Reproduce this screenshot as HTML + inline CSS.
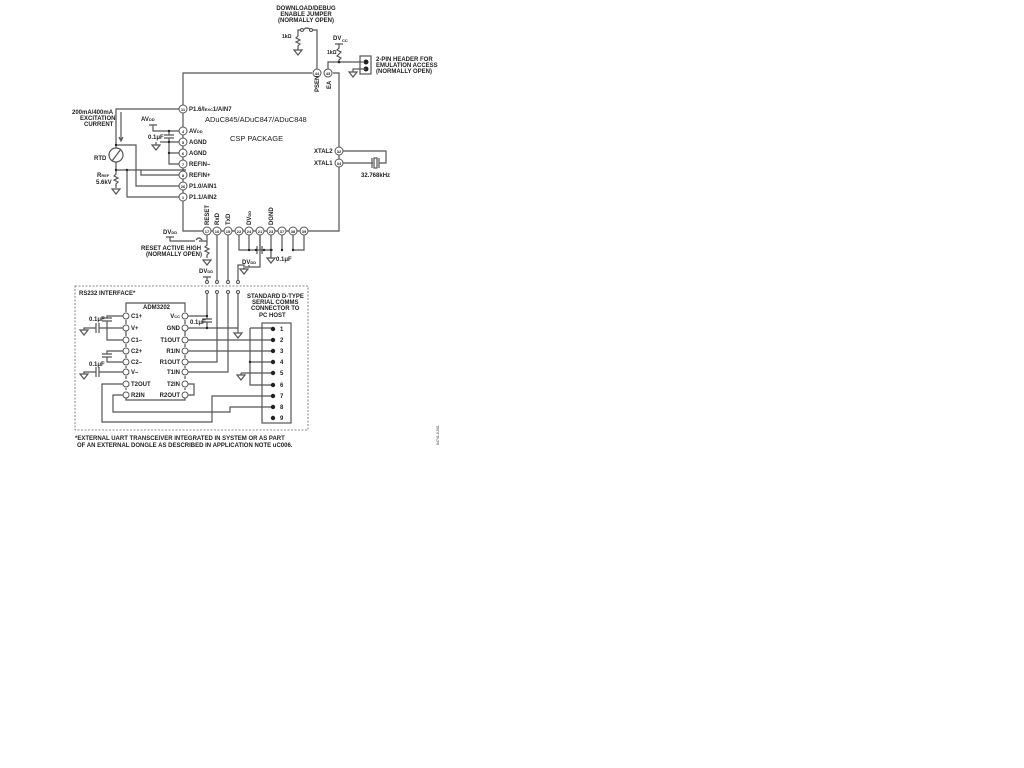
<!DOCTYPE html>
<html><head><meta charset="utf-8"><style>
html,body{margin:0;padding:0;background:#fff;}
svg{display:block;}
text{font-family:"Liberation Sans",sans-serif;font-weight:bold;font-size:6px;fill:#222;}
.w{stroke:#555;stroke-width:1.2;fill:none;}
.p{stroke:#555;stroke-width:1;fill:#fff;}
.d{fill:#222;}
.s{font-size:4px;}
</style></head><body>
<svg width="1024" height="768" viewBox="0 0 1024 768" xmlns="http://www.w3.org/2000/svg">
<!-- top labels -->
<text x="306" y="10" text-anchor="middle">DOWNLOAD/DEBUG</text>
<text x="306" y="16" text-anchor="middle">ENABLE JUMPER</text>
<text x="306" y="22" text-anchor="middle">(NORMALLY OPEN)</text>
<text x="282" y="38" style="font-size:5px">1kΩ</text>
<path class="w" d="M298 36 v-6 h3 M311 30 h6 v39 M298 36 l-2 2 l4 2 l-4 2 l4 2 l-2 2 v4"/>
<path class="w" d="M303 30 q4 -4 8 0"/>
<circle class="p" cx="302" cy="30" r="1.5"/><circle class="p" cx="311" cy="30" r="1.5"/>
<path class="w" d="M294 50 h8 l-4 5 z"/>
<text x="333" y="40">DV</text><text x="342" y="42" class="s">CC</text>
<path class="w" d="M335 44 h8 M339 44 v4 l-2 2 l4 2 l-2 2 l-2 2 l4 2 l-2 2 v2 M339 62 h24 M328 69 v-7 h11"/>
<text x="327" y="54" style="font-size:5px">1kΩ</text>
<circle class="d" cx="339" cy="62" r="1.3"/>
<rect x="360" y="56" width="11" height="18" class="w" stroke-width="1"/>
<circle class="d" cx="366" cy="62" r="2.5"/><circle class="d" cx="366" cy="69" r="2.5"/>
<path class="w" d="M366 69 h-13 v3 M349 72 h8 l-4 5 z"/>
<text x="376" y="61">2-PIN HEADER FOR</text>
<text x="376" y="67">EMULATION ACCESS</text>
<text x="376" y="73">(NORMALLY OPEN)</text>
<!-- main box -->
<path class="w" d="M312 73 H183 V231 H339 V73 H333"/>
<circle class="p" cx="317" cy="73" r="4"/><circle class="p" cx="328" cy="73" r="4"/>
<text x="317" y="75" text-anchor="middle" class="s">44</text><text x="328" y="75" text-anchor="middle" class="s">43</text>
<text transform="translate(319,92) rotate(-90)">PSEN</text>
<text transform="translate(331,89) rotate(-90)">EA</text>
<text x="205" y="122" style="font-weight:normal;font-size:7.5px">ADuC845/ADuC847/ADuC848</text>
<text x="230" y="141" style="font-weight:normal;font-size:7.5px">CSP PACKAGE</text>
<!-- left pins -->
<g>
<circle class="p" cx="183" cy="109" r="4"/><text x="183" y="111" text-anchor="middle" class="s">11</text><text x="189" y="111">P1.6/I<tspan class="s">EXC</tspan>1/AIN7</text>
<circle class="p" cx="183" cy="131" r="4"/><text x="183" y="133" text-anchor="middle" class="s">4</text><text x="189" y="133">AV<tspan class="s">DD</tspan></text>
<circle class="p" cx="183" cy="142" r="4"/><text x="183" y="144" text-anchor="middle" class="s">5</text><text x="189" y="144">AGND</text>
<circle class="p" cx="183" cy="153" r="4"/><text x="183" y="155" text-anchor="middle" class="s">6</text><text x="189" y="155">AGND</text>
<circle class="p" cx="183" cy="164" r="4"/><text x="183" y="166" text-anchor="middle" class="s">7</text><text x="189" y="166">REFIN–</text>
<circle class="p" cx="183" cy="175" r="4"/><text x="183" y="177" text-anchor="middle" class="s">8</text><text x="189" y="177">REFIN+</text>
<circle class="p" cx="183" cy="186" r="4"/><text x="183" y="188" text-anchor="middle" class="s">26</text><text x="189" y="188">P1.0/AIN1</text>
<circle class="p" cx="183" cy="197" r="4"/><text x="183" y="199" text-anchor="middle" class="s">1</text><text x="189" y="199">P1.1/AIN2</text>
</g>
<text x="72" y="114">200mA/400mA</text>
<text x="80" y="120">EXCITATION</text>
<text x="84" y="126">CURRENT</text>
<path class="w" d="M179 109 H116 V145 M121 112 v28 M119 137 l2 4 l2 -4"/>
<text x="141" y="121">AV<tspan class="s">DD</tspan></text>
<path class="w" d="M149 125 h8 M153 125 v6 h26 M169 131 v4 M164 135 h10 M164 138 h10 M169 138 v26 h10 M169 142 h10 M169 153 h10 M160 142 h9 M156 142 v3 M152 145 h8 l-4 5 z"/>
<text x="148" y="139">0.1μF</text>
<circle class="d" cx="169" cy="131" r="1.2"/><circle class="d" cx="169" cy="142" r="1.2"/><circle class="d" cx="169" cy="153" r="1.2"/>
<text x="94" y="160">RTD</text>
<circle class="w" cx="116" cy="155" r="7"/>
<path class="w" d="M112 161 l9 -12 M116 145 v3 M116 162 v8 M116 145 h20 v41 h43 M116 170 h70 M141 170 v5 h38 M127 170 v27 h52 M116 170 v4 l-2 2 l4 2 l-4 2 l4 2 l-2 2 v4 M112 189 h8 l-4 5 z"/>
<circle class="d" cx="116" cy="145" r="1.2"/><circle class="d" cx="116" cy="170" r="1.2"/><circle class="d" cx="127" cy="170" r="1.2"/>
<text x="97" y="177">R<tspan class="s">REF</tspan></text>
<text x="96" y="184">5.6kV</text>
<!-- right pins / crystal -->
<circle class="p" cx="339" cy="151" r="4"/><text x="339" y="153" text-anchor="middle" class="s">32</text><text x="314" y="153">XTAL2</text>
<circle class="p" cx="339" cy="163" r="4"/><text x="339" y="165" text-anchor="middle" class="s">34</text><text x="314" y="165">XTAL1</text>
<path class="w" d="M343 151 h43 v12 h-7 M343 163 h30 M372 158 v10 M379 158 v10"/>
<rect x="374" y="158" width="3" height="10" class="w" stroke-width="0.8"/>
<text x="361" y="177">32.768kHz</text>
<!-- bottom pins -->
<g>
<circle class="p" cx="207" cy="231" r="4"/><circle class="p" cx="217" cy="231" r="4"/><circle class="p" cx="228" cy="231" r="4"/><circle class="p" cx="239" cy="231" r="4"/><circle class="p" cx="249" cy="231" r="4"/><circle class="p" cx="260" cy="231" r="4"/><circle class="p" cx="271" cy="231" r="4"/><circle class="p" cx="282" cy="231" r="4"/><circle class="p" cx="293" cy="231" r="4"/><circle class="p" cx="304" cy="231" r="4"/>
<text y="233" text-anchor="middle" class="s"><tspan x="207">17</tspan><tspan x="217">16</tspan><tspan x="228">15</tspan><tspan x="239">22</tspan><tspan x="249">24</tspan><tspan x="260">21</tspan><tspan x="271">23</tspan><tspan x="282">37</tspan><tspan x="293">38</tspan><tspan x="304">39</tspan></text>
<text transform="translate(209,225) rotate(-90)">RESET</text>
<text transform="translate(219,225) rotate(-90)">RxD</text>
<text transform="translate(230,225) rotate(-90)">TxD</text>
<text transform="translate(251,225) rotate(-90)">DV<tspan class="s">DD</tspan></text>
<text transform="translate(273,225) rotate(-90)">DGND</text>
</g>
<text x="163" y="234">DV<tspan class="s">DD</tspan></text>
<path class="w" d="M166 237 h8 M170 237 v4 h25 M199 241 h8 v4 l-2 2 l4 2 l-4 2 l4 2 l-2 2 v3 M203 260 h8 l-4 5 z M207 235 v6"/>
<path class="w" d="M196 240 q3 -4 6 0"/>
<text x="141" y="250">RESET ACTIVE HIGH</text>
<text x="146" y="256">(NORMALLY OPEN)</text>
<path class="w" d="M239 235 v15 h34 M249 235 v15 M260 235 v15 M271 235 v15 M282 235 v15 M293 235 v15 M304 235 v15 h-11 M271 250 v8 M267 258 h8 l-4 5 z"/>
<path class="w" d="M257 246 v8 M262 246 v8"/>
<circle class="d" cx="249" cy="250" r="1.2"/><circle class="d" cx="256" cy="250" r="1.2"/><circle class="d" cx="264" cy="250" r="1.2"/><circle class="d" cx="271" cy="250" r="1.2"/><circle class="d" cx="282" cy="250" r="1.2"/><circle class="d" cx="293" cy="250" r="1.2"/>
<text x="276" y="261">0.1μF</text>
<path class="w" d="M217 235 v46 M228 235 v46 M260 235 v32 h-8 M245 267 h8 M249 267 v-2 M238 281 v-16 h6 v4 M240 269 h8 l-4 5 z"/>
<text x="242" y="264">DV<tspan class="s">DD</tspan></text>
<text x="199" y="273">DV<tspan class="s">DD</tspan></text>
<path class="w" d="M203 277 h8 M207 277 v4"/>
<circle class="p" cx="207" cy="282" r="1.5"/><circle class="p" cx="217" cy="282" r="1.5"/><circle class="p" cx="228" cy="282" r="1.5"/><circle class="p" cx="238" cy="282" r="1.5"/>
<circle class="p" cx="207" cy="292" r="1.5"/><circle class="p" cx="217" cy="292" r="1.5"/><circle class="p" cx="228" cy="292" r="1.5"/><circle class="p" cx="238" cy="292" r="1.5"/>
<!-- RS232 box -->
<rect x="75" y="286" width="233" height="144" fill="none" stroke="#666" stroke-width="0.8" stroke-dasharray="2,1.5"/>
<text x="79" y="295">RS232 INTERFACE*</text>
<text x="143" y="309">ADM3202</text>
<path class="w" d="M126 312 V303 H185 V312 M126 320 v4 M126 331 v5 M126 344 v3 M126 355 v3 M126 366 v2 M126 376 v3 M185 320 v4 M185 331 v5 M185 344 v3 M185 355 v3 M185 366 v2 M185 376 v3 M185 388 v2 M126 388 v2 M126 398 v2 H185 v-2"/>
<text x="247" y="298">STANDARD D-TYPE</text>
<text x="252" y="304">SERIAL COMMS</text>
<text x="251" y="310">CONNECTOR TO</text>
<text x="259" y="317">PC HOST</text>
<rect x="262" y="323" width="29" height="100" class="w" stroke-width="1"/>
<!-- lower wiring -->
<path class="w" d="M123 384 H102 V422 H212 V396 H273 M123 395 H113 V412 H230 V407 H273 M188 384 h6 v11 h-6"/>
<g class="p">
<circle cx="126" cy="316" r="3"/><circle cx="126" cy="328" r="3"/><circle cx="126" cy="340" r="3"/><circle cx="126" cy="351" r="3"/><circle cx="126" cy="362" r="3"/><circle cx="126" cy="372" r="3"/><circle cx="126" cy="384" r="3"/><circle cx="126" cy="395" r="3"/>
<circle cx="185" cy="316" r="3"/><circle cx="185" cy="328" r="3"/><circle cx="185" cy="340" r="3"/><circle cx="185" cy="351" r="3"/><circle cx="185" cy="362" r="3"/><circle cx="185" cy="372" r="3"/><circle cx="185" cy="384" r="3"/><circle cx="185" cy="395" r="3"/>
</g>
<text x="131" y="318">C1+</text><text x="131" y="330">V+</text><text x="131" y="342">C1–</text><text x="131" y="353">C2+</text><text x="131" y="364">C2–</text><text x="131" y="374">V–</text><text x="131" y="386">T2OUT</text><text x="131" y="397">R2IN</text>
<text x="180" y="318" text-anchor="end">V<tspan class="s">CC</tspan></text><text x="180" y="330" text-anchor="end">GND</text><text x="180" y="342" text-anchor="end">T1OUT</text><text x="180" y="353" text-anchor="end">R1IN</text><text x="180" y="364" text-anchor="end">R1OUT</text><text x="180" y="374" text-anchor="end">T1IN</text><text x="180" y="386" text-anchor="end">T2IN</text><text x="180" y="397" text-anchor="end">R2OUT</text>
<!-- caps left -->
<text x="89" y="321">0.1μF</text>
<path class="w" d="M123 316 h-16 v2 M102 318 h10 M102 321 h10 M107 321 v19 h16 M123 328 h-24 M99 323 v10 M96 323 v10 M96 328 h-12 v2 M80 330 h8 l-4 5 z"/>
<path class="w" d="M123 351 h-16 v3 M102 354 h10 M102 357 h10 M107 357 v5 h16"/>
<text x="89" y="366">0.1μF</text>
<path class="w" d="M123 372 h-24 M99 367 v10 M96 367 v10 M96 372 h-12 v2 M80 374 h8 l-4 5 z"/>
<!-- right side wiring -->
<path class="w" d="M188 316 H207 V294 M188 328 H238 V294 M238 328 V333 M234 333 h8 l-4 5 z M207 316 v3 M202 319 h10 M202 322 h10 M207 322 v6"/>
<circle class="d" cx="207" cy="316" r="1.2"/><circle class="d" cx="207" cy="328" r="1.2"/>
<text x="190" y="324">0.1μF</text>
<path class="w" d="M217 294 V362 H188 M188 340 H273 M188 351 H273 M188 372 H228 V294"/>
<path class="w" d="M250 328 H273 M250 328 V385 H273 M250 362 H273 M241 373 H273 M241 373 v2 M237 375 h8 l-4 5 z"/>
<circle class="d" cx="250" cy="362" r="1.2"/>
<g class="d">
<circle cx="273" cy="329" r="2.2"/><circle cx="273" cy="340" r="2.2"/><circle cx="273" cy="351" r="2.2"/><circle cx="273" cy="362" r="2.2"/><circle cx="273" cy="373" r="2.2"/><circle cx="273" cy="385" r="2.2"/><circle cx="273" cy="396" r="2.2"/><circle cx="273" cy="407" r="2.2"/><circle cx="273" cy="418" r="2.2"/>
</g>
<text x="280" y="331">1</text><text x="280" y="342">2</text><text x="280" y="353">3</text><text x="280" y="364">4</text><text x="280" y="375">5</text><text x="280" y="387">6</text><text x="280" y="398">7</text><text x="280" y="409">8</text><text x="280" y="420">9</text>
<text x="75" y="440">*EXTERNAL UART TRANSCEIVER INTEGRATED IN SYSTEM OR AS PART</text>
<text x="77" y="447">OF AN EXTERNAL DONGLE AS DESCRIBED IN APPLICATION NOTE uC006.</text>
<text transform="translate(439,445) rotate(-90)" style="font-size:3.5px;font-weight:normal">04741-0-001</text>
</svg>
</body></html>
